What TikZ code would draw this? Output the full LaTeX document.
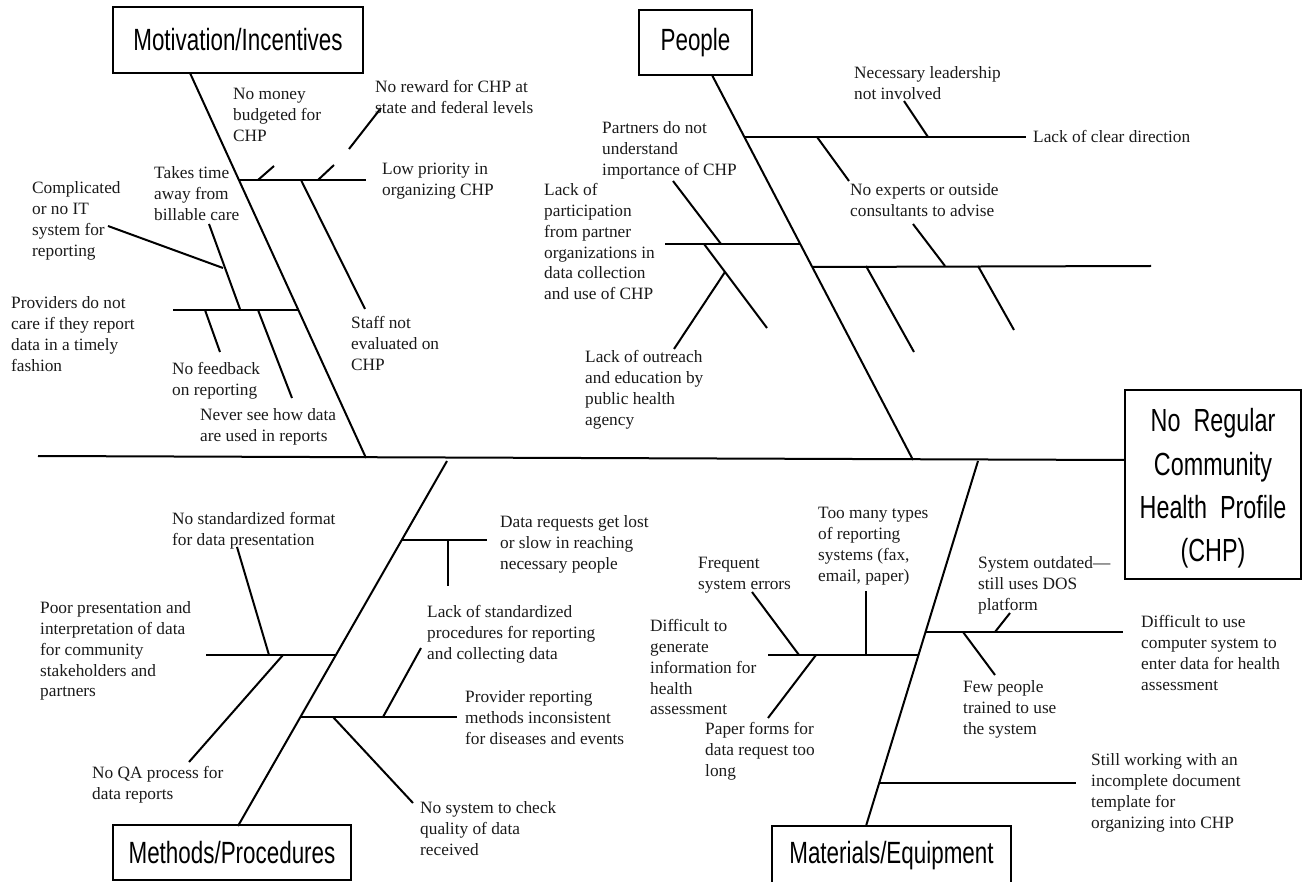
\documentclass[tikz,border=0pt]{standalone}
\usepackage{fontspec}
\setmainfont{Liberation Serif}
\newfontfamily\ttlfont[FakeStretch=0.73]{Liberation Sans}
\usetikzlibrary{calc}
\definecolor{ink}{HTML}{1A1A1A}
\tikzset{
  lbl/.style={anchor=north west, inner sep=0pt, align=left, text=ink,
    font=\fontsize{17.3}{20.8}\selectfont},
  ttl/.style={draw, line width=2.5pt, inner sep=0pt, align=center,
    font=\ttlfont\fontsize{30.7}{34}\selectfont},
  bone/.style={line width=2pt, line cap=butt},
  twig/.style={line width=2pt},
  heavy/.style={line width=2.8pt}
}
\begin{document}
\begin{tikzpicture}[x=1pt,y=-1pt]
\useasboundingbox (0,0) rectangle (1302,882);

% ---------- boxes ----------
\node[ttl, minimum width=250pt, minimum height=66pt] (mot) at (238,40) {Motivation/Incentives};
\node[ttl, minimum width=113pt, minimum height=65pt] (peo) at (695.5,42.5) {People};
\node[ttl, minimum width=238pt, minimum height=55pt] (met) at (232,852.5) {Methods/Procedures};
\node[ttl, minimum width=239pt, minimum height=59pt] (mat) at (891.5,855.5) {Materials/Equipment};
\node[ttl, minimum width=176pt, minimum height=189pt] (head) at (1213,484.5) {};
\node[inner sep=0pt, align=center, font=\ttlfont\fontsize{32}{43.3}\selectfont]
      (headtxt) at (1213,488.5) {No\ \ Regular\\Community\\Health\ \ Profile\\(CHP)};

% ---------- spine ----------
\coordinate (sL) at (38,456);
\coordinate (sR) at (head.west |- 0,460);
\draw[bone] (sL) -- (sR);

% ---------- main bones ----------
\draw[bone] (190,73) coordinate (mA) -- (366,458) coordinate (mB);
\draw[bone] (712,75) coordinate (pA) -- (913,460) coordinate (pB);
\draw[bone] (447,461) coordinate (eA) -- (238,826) coordinate (eB);
\draw[bone] (978,461) coordinate (aA) -- (866,826) coordinate (aB);

% ---------- Motivation branches ----------
\draw[heavy] (239,180) -- (366,180);
\draw[twig] (258,180) -- (274,166);
\draw[twig] (318,180) -- (334,165);
\draw[twig] (349,149) -- (381,108);
\draw[twig] (301,180) -- (365,309);
\draw[twig] (209,224) -- (240,309);
\draw[twig] (108,226) -- (223,268);
\draw[heavy] (173,310) -- (299,310);
\draw[twig] (205,310) -- (220,352);
\draw[twig] (258,310) -- (292,398);

% ---------- People branches ----------
\draw[heavy] (744,137) -- (1026,137);
\draw[twig] (928,137) -- (904,101);
\draw[twig] (817,137) -- (849,181);
\draw[twig] (813,267) -- (1151,266);
\draw[twig] (913,224) -- (945,266);
\draw[twig] (866,266) -- (914,352);
\draw[twig] (978,266) -- (1014,330);
\draw[heavy] (665,244) -- (801,244);
\draw[twig] (673,181) -- (721,244);
\draw[twig] (704,244) -- (767,328);
\draw[twig] (674,349) -- (725,272);

% ---------- Methods branches ----------
\draw[heavy] (402,540) -- (487,540);
\draw[heavy] (448,540) -- (448,586);
\draw[heavy] (206,655) -- (336,655);
\draw[twig] (237,547) -- (269,655);
\draw[twig] (283,655) -- (189,762);
\draw[twig] (300,717) -- (457,717);
\draw[twig] (421,648) -- (383,717);
\draw[twig] (333,717) -- (413,803);

% ---------- Materials branches ----------
\draw[heavy] (768,655) -- (918,655);
\draw[twig] (752,592) -- (799,655);
\draw[heavy] (866,591) -- (866,655);
\draw[twig] (816,655) -- (768,718);
\draw[twig] (925,632) -- (1123,632);
\draw[twig] (995,632) -- (1010,613);
\draw[twig] (963,632) -- (995,675);
\draw[heavy] (880,783) -- (1076,783);

% ---------- Motivation labels ----------
\node[lbl] (t1) at (233,85) {\strut No money\\budgeted for\\CHP};
\node[lbl] (t2) at (375,78) {\strut No reward for CHP at\\state and federal levels};
\node[lbl] (t3) at (382,160) {\strut Low priority in\\organizing CHP};
\node[lbl] (t4) at (154,164) {\strut Takes time\\away from\\billable care};
\node[lbl] (t5) at (32,179) {\strut Complicated\\or no IT\\system for\\reporting};
\node[lbl] (t6) at (11,294) {\strut Providers do not\\care if they report\\data in a timely\\fashion};
\node[lbl] (t7) at (351,314) {\strut Staff not\\evaluated on\\CHP};
\node[lbl] (t8) at (172,360) {\strut No feedback\\on reporting};
\node[lbl] (t9) at (200,406) {\strut Never see how data\\are used in reports};

% ---------- People labels ----------
\node[lbl] (u1) at (602,119) {\strut Partners do not\\understand\\importance of CHP};
\node[lbl] (u2) at (544,181) {\strut Lack of\\participation\\from partner\\organizations in\\data collection\\and use of CHP};
\node[lbl] (u3) at (585,348) {\strut Lack of outreach\\and education by\\public health\\agency};
\node[lbl] (u4) at (854,64) {\strut Necessary leadership\\not involved};
\node[lbl] (u5) at (1033,128) {\strut Lack of clear direction};
\node[lbl] (u6) at (850,181) {\strut No experts or outside\\consultants to advise};

% ---------- Methods labels ----------
\node[lbl] (v1) at (172,510) {\strut No standardized format\\for data presentation};
\node[lbl] (v2) at (40,599) {\strut Poor presentation and\\interpretation of data\\for community\\stakeholders and\\partners};
\node[lbl] (v3) at (92,764) {\strut No QA process for\\data reports};
\node[lbl] (v4) at (500,513) {\strut Data requests get lost\\or slow in reaching\\necessary people};
\node[lbl] (v5) at (427,603) {\strut Lack of standardized\\procedures for reporting\\and collecting data};
\node[lbl] (v6) at (465,688) {\strut Provider reporting\\methods inconsistent\\for diseases and events};
\node[lbl] (v7) at (420,799) {\strut No system to check\\quality of data\\received};

% ---------- Materials labels ----------
\node[lbl] (w1) at (818,504) {\strut Too many types\\of reporting\\systems (fax,\\email, paper)};
\node[lbl] (w2) at (698,554) {\strut Frequent\\system errors};
\node[lbl] (w3) at (650,617) {\strut Difficult to\\generate\\information for\\health\\assessment};
\node[lbl] (w4) at (705,720) {\strut Paper forms for\\data request too\\long};
\node[lbl] (w5) at (978,554) {\strut System outdated—\\still uses DOS\\platform};
\node[lbl] (w6) at (1141,613) {\strut Difficult to use\\computer system to\\enter data for health\\assessment};
\node[lbl] (w7) at (963,678) {\strut Few people\\trained to use\\the system};
\node[lbl] (w8) at (1091,751) {\strut Still working with an\\incomplete document\\template for\\organizing into CHP};
\end{tikzpicture}
\end{document}
